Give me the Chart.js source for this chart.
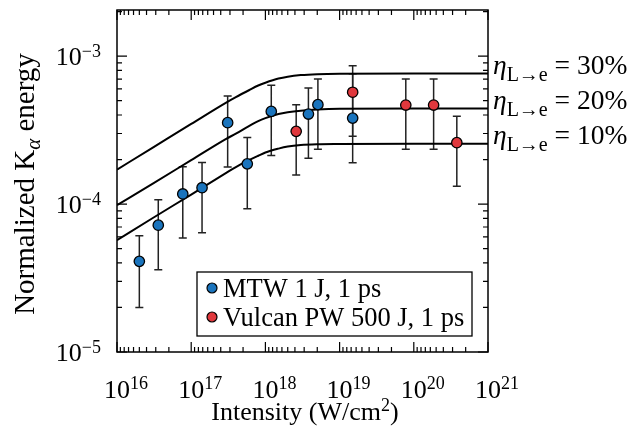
<!DOCTYPE html>
<html>
<head>
<meta charset="utf-8">
<script src="https://cdn.jsdelivr.net/npm/chart.js@4.4.0/dist/chart.umd.min.js"></script>
<style>
    html, body { margin: 0; padding: 0; background: #fff; }
    #wrap { width: 633px; height: 435px; }
</style>
</head>
<body>
<div id="wrap"><canvas id="chart" width="633" height="435"></canvas></div>
<script>
/**
 * K-alpha yield vs laser intensity
 */

// MTW 1 J, 1 ps shots
const mtwIntensity = [2.0e16, 3.6e16, 7.7e16, 1.4e17, 3.1e17, 5.7e17, 1.2e18, 3.8e18, 5.1e18, 1.5e19];
const mtwEnergy    = [4.1e-5, 7.2e-5, 1.17e-4, 1.29e-4, 3.55e-4, 1.87e-4, 4.23e-4, 4.06e-4, 4.7e-4, 3.81e-4];
const mtwErrLow    = [2.0e-5, 3.6e-5, 5.9e-5, 6.4e-5, 1.78e-4, 9.3e-5, 2.13e-4, 2.04e-4, 2.35e-4, 1.9e-4];
const mtwErrHigh   = [6.1e-5, 1.07e-4, 1.79e-4, 1.91e-4, 5.37e-4, 2.82e-4, 6.35e-4, 6.1e-4, 7.0e-4, 7.6e-4];

// Vulcan PW 500 J, 1 ps shots
const vulcanIntensity = [2.6e18, 1.5e19, 7.8e19, 1.85e20, 3.8e20];
const vulcanEnergy    = [3.1e-4, 5.7e-4, 4.67e-4, 4.67e-4, 2.6e-4];
const vulcanErrLow    = [1.57e-4, 2.87e-4, 2.35e-4, 2.35e-4, 1.32e-4];
const vulcanErrHigh   = [4.7e-4, 8.6e-4, 7.0e-4, 7.0e-4, 3.92e-4];

// model curves
const modelIntensity = [1e16, 3e16, 1e17, 3e17, 4e17, 6e17, 8e17, 1e18, 1.5e18, 2e18, 3e18, 5e18, 1e19, 1e20, 1e21];
const eta30 = [1.71e-4, 2.40e-4, 3.48e-4, 4.87e-4, 5.28e-4, 5.88e-4, 6.33e-4, 6.61e-4, 7.05e-4, 7.26e-4, 7.44e-4, 7.55e-4, 7.6e-4, 7.62e-4, 7.62e-4];
const eta20 = [9.84e-5, 1.37e-4, 1.98e-4, 2.77e-4, 2.99e-4, 3.37e-4, 3.64e-4, 3.81e-4, 4.06e-4, 4.17e-4, 4.27e-4, 4.35e-4, 4.40e-4, 4.42e-4, 4.42e-4];
const eta10 = [5.70e-5, 8.02e-5, 1.16e-4, 1.63e-4, 1.78e-4, 1.98e-4, 2.12e-4, 2.23e-4, 2.37e-4, 2.45e-4, 2.51e-4, 2.54e-4, 2.55e-4, 2.56e-4, 2.56e-4];
const curveLabels = ['30%', '20%', '10%'];

// axes
const xTickExponents = [16, 17, 18, 19, 20, 21];
const yTickExponents = [-5, -4, -3];
const xMinorFactors = [1.11, 1.25, 1.43, 1.67, 2, 2.5, 3.33, 5];
const yMinorFactors = [2, 3, 4, 5, 6, 7, 8, 9];

const BLUE = '#1a74bd';
const RED = '#e0383d';
const SERIF = '"Liberation Serif", "Times New Roman", serif';

function pairs(xs, ys) {
    return xs.map((x, i) => ({ x: x, y: ys[i] }));
}

function curveDataset(values) {
    return {
        data: pairs(modelIntensity, values),
        showLine: true,
        borderColor: '#000',
        borderWidth: 2,
        pointRadius: 0,
        cubicInterpolationMode: 'monotone',
        fill: false,
        order: 2
    };
}

function markerDataset(label, xs, ys, color, order) {
    return {
        label: label,
        data: pairs(xs, ys),
        pointRadius: 5.2,
        pointBackgroundColor: color,
        pointBorderColor: '#000',
        pointBorderWidth: 1.3,
        showLine: false,
        order: order
    };
}

function drawErrorBars(ctx, xs, lows, highs, xs_, ys_) {
    ctx.beginPath();
    xs.forEach((x, i) => {
        const px = xs_.getPixelForValue(x);
        const y0 = ys_.getPixelForValue(lows[i]);
        const y1 = ys_.getPixelForValue(highs[i]);
        ctx.moveTo(px, y0); ctx.lineTo(px, y1);
        ctx.moveTo(px - 4, y0); ctx.lineTo(px + 4, y0);
        ctx.moveTo(px - 4, y1); ctx.lineTo(px + 4, y1);
    });
    ctx.stroke();
}

// text with a raised or lowered piece
function textWidth(ctx, parts) {
    let w = 0;
    parts.forEach(p => { ctx.font = p.font; w += ctx.measureText(p.text).width; });
    return w;
}

function drawParts(ctx, parts, x, y) {
    parts.forEach(p => {
        ctx.font = p.font;
        ctx.fillText(p.text, x, y + (p.dy || 0));
        x += ctx.measureText(p.text).width;
    });
}

const decorations = {
    id: 'decorations',
    beforeDatasetsDraw(chart) {
        const ctx = chart.ctx;
        const sx = chart.scales.x, sy = chart.scales.y;
        ctx.save();
        ctx.strokeStyle = '#222';
        ctx.lineWidth = 1.5;
        drawErrorBars(ctx, mtwIntensity, mtwErrLow, mtwErrHigh, sx, sy);
        drawErrorBars(ctx, vulcanIntensity, vulcanErrLow, vulcanErrHigh, sx, sy);
        ctx.restore();
    },
    afterDraw(chart) {
        const ctx = chart.ctx;
        const a = chart.chartArea;
        const sx = chart.scales.x, sy = chart.scales.y;
        ctx.save();
        ctx.strokeStyle = '#000';
        ctx.fillStyle = '#000';

        // frame
        ctx.lineWidth = 1.5;
        ctx.strokeRect(a.left, a.top, a.right - a.left, a.bottom - a.top);

        // inward ticks on all sides
        ctx.lineWidth = 1.2;
        ctx.beginPath();
        const xTick = (v, len) => {
            const px = sx.getPixelForValue(v);
            if (px < a.left - 0.5 || px > a.right + 0.5) return;
            ctx.moveTo(px, a.bottom); ctx.lineTo(px, a.bottom - len);
            ctx.moveTo(px, a.top); ctx.lineTo(px, a.top + len);
        };
        const yTick = (v, len) => {
            const py = sy.getPixelForValue(v);
            if (py < a.top - 0.5 || py > a.bottom + 0.5) return;
            ctx.moveTo(a.left, py); ctx.lineTo(a.left + len, py);
            ctx.moveTo(a.right, py); ctx.lineTo(a.right - len, py);
        };
        xTickExponents.forEach(e => {
            xTick(Math.pow(10, e), 10);
            xMinorFactors.forEach(f => xTick(f * Math.pow(10, e), 5));
        });
        yTickExponents.forEach(e => {
            yTick(Math.pow(10, e), 10);
            yMinorFactors.forEach(f => yTick(f * Math.pow(10, e), 5));
        });
        ctx.stroke();

        const big = '26px ' + SERIF;
        const small = '18px ' + SERIF;

        // x tick labels
        ctx.textAlign = 'left';
        ctx.textBaseline = 'alphabetic';
        xTickExponents.forEach(e => {
            const px = sx.getPixelForValue(Math.pow(10, e));
            ctx.font = big;
            const w10 = ctx.measureText('10').width;
            drawParts(ctx, [
                { text: '10', font: big },
                { text: String(e), font: small, dy: -9 }
            ], px - w10 / 2, 398);
        });

        // y tick labels
        yTickExponents.forEach(e => {
            const py = sy.getPixelForValue(Math.pow(10, e));
            const parts = [
                { text: '10', font: big },
                { text: '\u2212' + Math.abs(e), font: small, dy: -8 }
            ];
            const w = textWidth(ctx, parts);
            drawParts(ctx, parts, 101 - w, py + 9);
        });

        // axis titles
        const xTitle = [
            { text: 'Intensity (W/cm', font: big },
            { text: '2', font: small, dy: -9 },
            { text: ')', font: big }
        ];
        drawParts(ctx, xTitle, 305 - textWidth(ctx, xTitle) / 2, 420);

        const yBig = '29px ' + SERIF;
        const yTitle = [
            { text: 'Normalized K', font: yBig },
            { text: '\u03b1', font: 'italic 21px ' + SERIF, dy: 6 },
            { text: ' energy', font: yBig }
        ];
        ctx.save();
        ctx.translate(34, 184);
        ctx.rotate(-Math.PI / 2);
        drawParts(ctx, yTitle, -textWidth(ctx, yTitle) / 2, 0);
        ctx.restore();

        // curve labels on the right
        const lblBig = '27.5px ' + SERIF;
        [eta30, eta20, eta10].forEach((vals, i) => {
            const py = sy.getPixelForValue(vals[vals.length - 1]);
            drawParts(ctx, [
                { text: '\u03b7', font: 'italic ' + lblBig },
                { text: 'L\u2192e', font: '20px ' + SERIF, dy: 7 },
                { text: ' = ' + curveLabels[i], font: lblBig }
            ], 493, py + 0);
        });

        // legend box
        const lx = 197, ly = 272, lw = 275, lh = 64;
        ctx.fillStyle = '#fff';
        ctx.fillRect(lx, ly, lw, lh);
        ctx.lineWidth = 1.3;
        ctx.strokeRect(lx, ly, lw, lh);
        chart.data.datasets.filter(d => d.label).forEach((d, i) => {
            const cy = 288 + i * 29;
            ctx.beginPath();
            ctx.arc(212, cy, 5, 0, Math.PI * 2);
            ctx.fillStyle = d.pointBackgroundColor;
            ctx.fill();
            ctx.lineWidth = 1.2;
            ctx.stroke();
            ctx.fillStyle = '#000';
            ctx.font = '26.5px ' + SERIF;
            ctx.fillText(d.label, 223, cy + 9);
        });

        ctx.restore();
    }
};

new Chart(document.getElementById('chart'), {
    type: 'scatter',
    data: {
        datasets: [
            markerDataset('MTW 1 J, 1 ps', mtwIntensity, mtwEnergy, BLUE, 1),
            markerDataset('Vulcan PW 500 J, 1 ps', vulcanIntensity, vulcanEnergy, RED, 0),
            curveDataset(eta30),
            curveDataset(eta20),
            curveDataset(eta10)
        ]
    },
    options: {
        responsive: false,
        animation: false,
        layout: { padding: { left: 117, right: 145, top: 10, bottom: 83 } },
        plugins: {
            legend: { display: false },
            tooltip: { enabled: false }
        },
        scales: {
            x: { type: 'logarithmic', min: 1e16, max: 1e21, display: false },
            y: { type: 'logarithmic', min: 1e-5, max: 2.05e-3, display: false }
        }
    },
    plugins: [decorations]
});
</script>
</body>
</html>
